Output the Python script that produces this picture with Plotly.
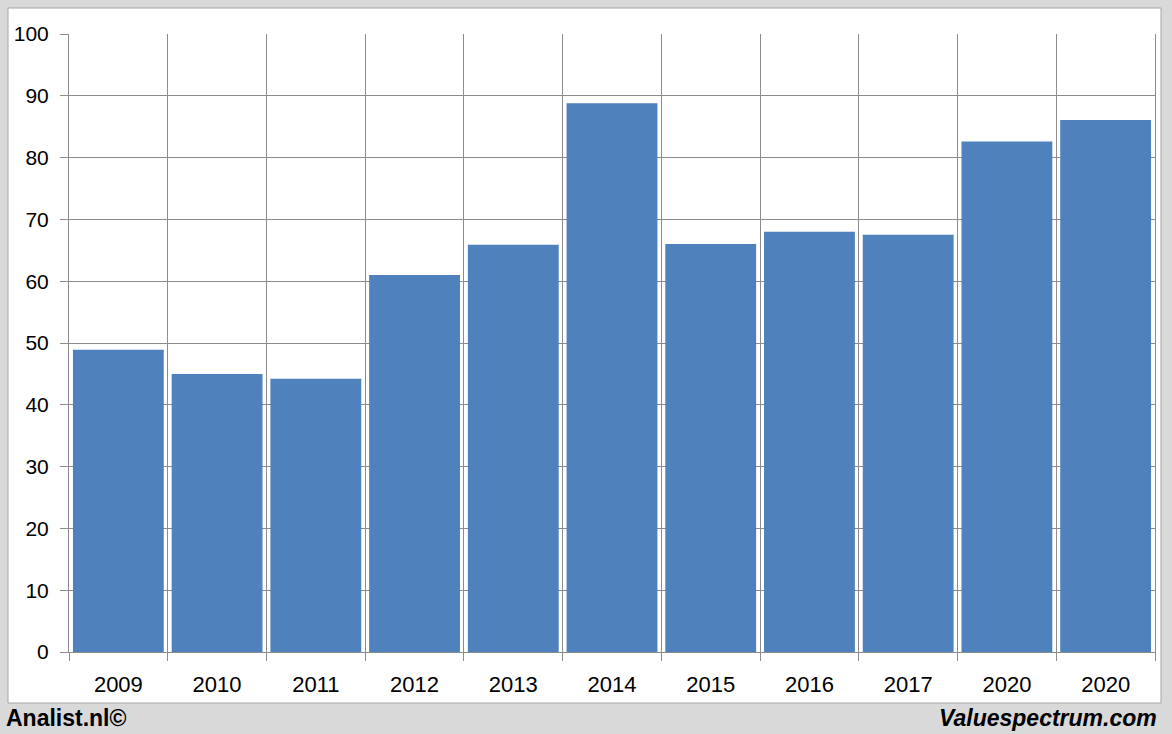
import plotly.graph_objects as go

years = ["2009", "2010", "2011", "2012", "2013", "2014", "2015", "2016", "2017", "2020", "2020"]
values = [48.9, 45.0, 44.2, 61.0, 65.9, 88.8, 66.0, 68.0, 67.5, 82.6, 86.1]
y_ticks = [0, 10, 20, 30, 40, 50, 60, 70, 80, 90, 100]

positions = list(range(len(years)))

fig = go.Figure(go.Bar(x=positions, y=values, marker=dict(color="#4F81BD", line=dict(width=0)),
                       width=0.92))

W, H = 1172, 734
PW = W - 69 - 17
PH = 652 - 34
GRID = "#8C8C8C"
fig.update_layout(
    width=W, height=H,
    margin=dict(l=69, r=17, t=34, b=82),
    paper_bgcolor="#D9D9D9",
    plot_bgcolor="white",
    showlegend=False,
    font=dict(family="Liberation Sans, Arial, sans-serif", size=19, color="#000000"),
    shapes=[dict(type="rect", xref="paper", yref="paper",
                 x0=(8 - 69) / PW, x1=(1161 - 69) / PW,
                 y0=(652 - 703) / PH, y1=(652 - 8) / PH,
                 fillcolor="white", line=dict(color="#A6A6A6", width=1), layer="below")],
    annotations=[
        dict(text="<b>Analist.nl©</b>", xref="paper", yref="paper",
             x=(4 - 69) / PW, y=(652 - 718) / PH,
             xanchor="left", yanchor="middle", showarrow=False,
             font=dict(size=23, family="Liberation Sans, Arial, sans-serif")),
        dict(text="<b><i>Valuespectrum.com</i></b>", xref="paper", yref="paper",
             x=(1159 - 69) / PW, y=(652 - 718) / PH,
             xanchor="right", yanchor="middle", showarrow=False,
             font=dict(size=23, family="Liberation Sans, Arial, sans-serif")),
    ],
)

fig.update_xaxes(
    range=[-0.5, len(years) - 0.5],
    tickmode="array", tickvals=positions, ticktext=years,
    ticks="outside", ticklen=13, tickcolor="rgba(0,0,0,0)",
    showgrid=False, zeroline=False,
    showline=True, linecolor=GRID, linewidth=1, mirror=False,
    minor=dict(tick0=-0.5, dtick=1, ticks="outside", ticklen=8, tickcolor=GRID,
               showgrid=True, gridcolor=GRID, gridwidth=1),
    tickfont=dict(size=22),
)
fig.update_yaxes(
    range=[0, 100], tickmode="array", tickvals=y_ticks,
    ticks="outside", ticklen=8, tickcolor=GRID,
    showgrid=True, gridcolor=GRID, gridwidth=1,
    zeroline=False, showline=True, linecolor=GRID, mirror=True,
    ticklabelstandoff=7,
    tickfont=dict(size=21),
)

fig.write_html("out.html", config={"displayModeBar": False},
               post_script="document.body.style.margin='0';document.body.style.background='#D9D9D9';")
